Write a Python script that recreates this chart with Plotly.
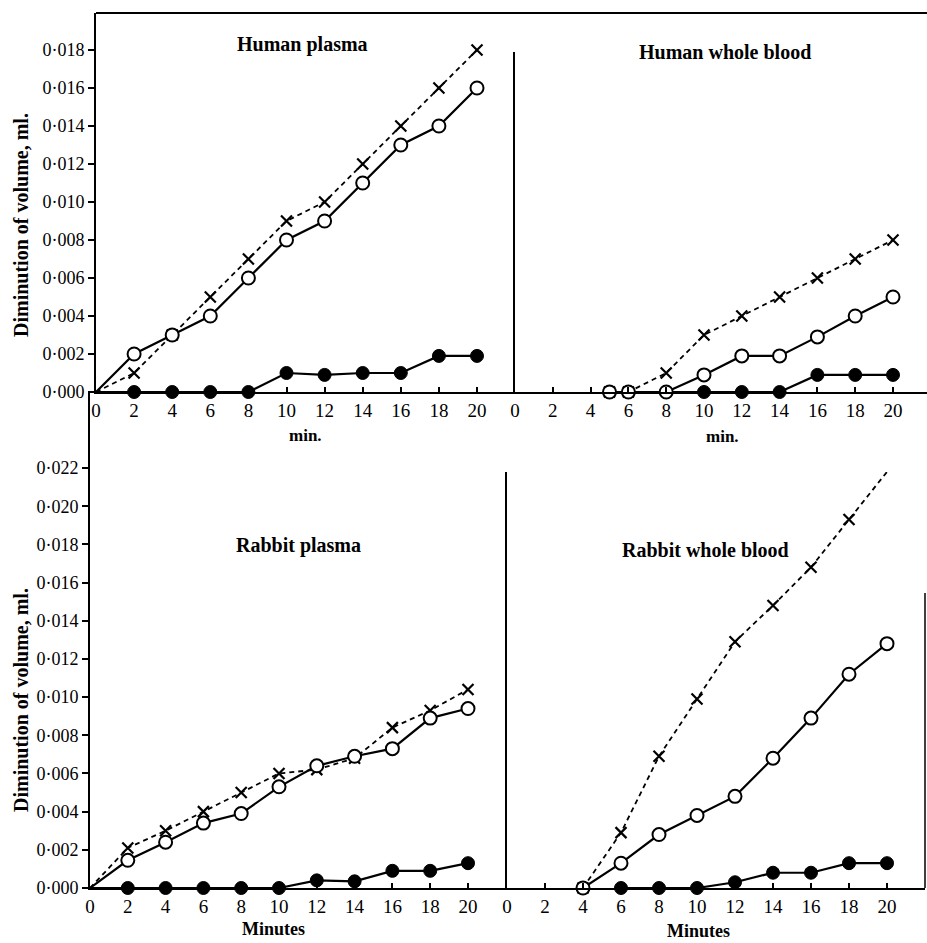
import plotly.graph_objects as go

W, H = 927, 943

# ---------------- data ----------------
hp_min = [0, 2, 4, 6, 8, 10, 12, 14, 16, 18, 20]
hp_cross = [0, 0.001, 0.003, 0.005, 0.007, 0.009, 0.010, 0.012, 0.014, 0.016, 0.018]
hp_open = [0, 0.002, 0.003, 0.004, 0.006, 0.008, 0.009, 0.011, 0.013, 0.014, 0.016]
hp_filled = [0, 0, 0, 0, 0, 0.001, 0.0009, 0.001, 0.001, 0.0019, 0.0019]

hwb_min = [5, 6, 8, 10, 12, 14, 16, 18, 20]
hwb_cross = [0, 0, 0.001, 0.003, 0.004, 0.005, 0.006, 0.007, 0.008]
hwb_open = [0, 0, 0, 0.0009, 0.0019, 0.0019, 0.0029, 0.004, 0.005]
hwb_filled_min = [8, 10, 12, 14, 16, 18, 20]
hwb_filled = [0, 0, 0, 0, 0.0009, 0.0009, 0.0009]

rp_min = [0, 2, 4, 6, 8, 10, 12, 14, 16, 18, 20]
rp_cross = [0, 0.0021, 0.003, 0.004, 0.005, 0.006, 0.0062, 0.0068, 0.0084, 0.0093, 0.0104]
rp_open = [0, 0.00145, 0.0024, 0.0034, 0.0039, 0.0053, 0.0064, 0.0069, 0.0073, 0.0089, 0.0094]
rp_filled = [0, 0, 0, 0, 0, 0, 0.0004, 0.00035, 0.0009, 0.0009, 0.0013]

rwb_min = [4, 6, 8, 10, 12, 14, 16, 18, 20]
rwb_cross = [0, 0.0029, 0.0069, 0.0099, 0.0129, 0.0148, 0.0168, 0.0193, 0.0218]
rwb_open = [0, 0.0013, 0.0028, 0.0038, 0.0048, 0.0068, 0.0089, 0.0112, 0.0128]
rwb_filled_min = [6, 8, 10, 12, 14, 16, 18, 20]
rwb_filled = [0, 0, 0, 0.0003, 0.0008, 0.0008, 0.0013, 0.0013]

x_ticks = [0, 2, 4, 6, 8, 10, 12, 14, 16, 18, 20]
top_yticks = [0, 0.002, 0.004, 0.006, 0.008, 0.010, 0.012, 0.014, 0.016, 0.018]
bot_yticks = [0, 0.002, 0.004, 0.006, 0.008, 0.010, 0.012, 0.014, 0.016, 0.018, 0.020, 0.022]
top_ylabels = ["0·%03d" % round(v * 1000) for v in top_yticks]
bot_ylabels = ["0·%03d" % round(v * 1000) for v in bot_yticks]

panel_titles = ["Human plasma", "Human whole blood", "Rabbit plasma", "Rabbit whole blood"]

FONT = "Liberation Serif"

fig = go.Figure()


def add_series(xs, ys, kind, ax):
    xa, ya = ax
    if kind == "cross":
        line = dict(color="black", width=1.8, dash="5px,4px")
        marker = dict(symbol="x-thin", size=11, line=dict(color="black", width=2.2), color="black")
    elif kind == "open":
        line = dict(color="black", width=2.2)
        marker = dict(symbol="circle", size=13, color="white", line=dict(color="black", width=2))
    else:
        line = dict(color="black", width=2.2)
        marker = dict(symbol="circle", size=13, color="black", line=dict(color="black", width=1))
    fig.add_trace(go.Scatter(x=xs, y=ys, mode="lines", line=line, xaxis=xa, yaxis=ya,
                             cliponaxis=False, showlegend=False, hoverinfo="skip"))
    mx = [x for x in xs if x > 0]
    my = [y for x, y in zip(xs, ys) if x > 0]
    fig.add_trace(go.Scatter(x=mx, y=my, mode="markers", marker=marker, xaxis=xa, yaxis=ya,
                             cliponaxis=False, showlegend=False))


add_series(hp_min, hp_cross, "cross", ("x", "y"))
add_series(hp_min, hp_filled, "filled", ("x", "y"))
add_series(hp_min, hp_open, "open", ("x", "y"))

add_series(hwb_min, hwb_cross, "cross", ("x2", "y2"))
add_series(hwb_filled_min, hwb_filled, "filled", ("x2", "y2"))
add_series(hwb_min, hwb_open, "open", ("x2", "y2"))

add_series(rp_min, rp_cross, "cross", ("x3", "y3"))
add_series(rp_min, rp_filled, "filled", ("x3", "y3"))
add_series(rp_min, rp_open, "open", ("x3", "y3"))

add_series(rwb_min, rwb_cross, "cross", ("x4", "y4"))
add_series(rwb_filled_min, rwb_filled, "filled", ("x4", "y4"))
add_series(rwb_min, rwb_open, "open", ("x4", "y4"))


def px_x(p):
    return p / W


def px_y(p):
    return 1 - p / H


def xaxis(dom0, dom1, rng_max, anchor):
    return dict(domain=[px_x(dom0), px_x(dom1)], range=[0, rng_max], anchor=anchor,
                automargin=False,
                showline=True, linecolor="black", linewidth=2, showgrid=False, zeroline=False,
                tickmode="array", tickvals=x_ticks, ticktext=[str(t) for t in x_ticks],
                ticks="inside", ticklen=5, tickwidth=1.5, tickcolor="black",
                tickfont=dict(family=FONT, size=19, color="black"))


def yaxis(top, bottom, rng_max, anchor, tickvals=None, ticktext=None):
    d = dict(domain=[px_y(bottom), px_y(top)], range=[0, rng_max], anchor=anchor,
             automargin=False,
             showline=True, linecolor="black", linewidth=2, showgrid=False, zeroline=False)
    if tickvals is None:
        d.update(showticklabels=False, ticks="")
    else:
        d.update(tickmode="array", tickvals=tickvals, ticktext=ticktext, ticks="outside",
                 ticklen=6, tickwidth=1.5, tickcolor="black",
                 tickfont=dict(family=FONT, size=18, color="black"))
    return d


fig.update_layout(
    width=W, height=H,
    margin=dict(l=0, r=0, t=0, b=0, pad=0),
    paper_bgcolor="white", plot_bgcolor="white",
    xaxis=xaxis(96, 515, (515 - 96) / 19.05, "y"),
    yaxis=yaxis(13, 392, (392 - 13) / 19000, "x", top_yticks, top_ylabels),
    xaxis2=xaxis(515, 927, (927 - 515) / 18.9, "y2"),
    yaxis2=yaxis(52, 392, (392 - 52) / 19000, "x2"),
    xaxis3=xaxis(90, 507, (507 - 90) / 18.9, "y3"),
    yaxis3=yaxis(392, 888, (888 - 392) / 19090, "x3", bot_yticks, bot_ylabels),
    xaxis4=xaxis(507, 925, (925 - 507) / 19.0, "y4"),
    yaxis4=yaxis(472, 888, (888 - 472) / 19090, "x4"),
)

# frame lines
fig.add_shape(type="line", xref="paper", yref="paper", x0=px_x(96), x1=1, y0=px_y(13), y1=px_y(13),
              line=dict(color="black", width=2))
fig.add_shape(type="line", xref="paper", yref="paper", x0=px_x(925), x1=px_x(925), y0=px_y(593), y1=px_y(888),
              line=dict(color="black", width=1.5))

ann = []
title_pos = [(302, 45), (725, 52), (298, 545), (705, 550)]
for t, (x, y) in zip(panel_titles, title_pos):
    ann.append(dict(text="<b>%s</b>" % t, x=px_x(x), y=px_y(y), font=dict(family=FONT, size=20, color="black")))
for x, y in [(21, 225), (21, 700)]:
    ann.append(dict(text="<b>Diminution of volume, ml.</b>", x=px_x(x), y=px_y(y), textangle=-90,
                    font=dict(family=FONT, size=20, color="black")))
for x, y in [(305, 435), (722, 437)]:
    ann.append(dict(text="<b>min.</b>", x=px_x(x), y=px_y(y), font=dict(family=FONT, size=17, color="black")))
for x, y in [(273, 929), (698, 931)]:
    ann.append(dict(text="<b>Minutes</b>", x=px_x(x), y=px_y(y), font=dict(family=FONT, size=18, color="black")))
for a in ann:
    a.update(xref="paper", yref="paper", xanchor="center", yanchor="middle", showarrow=False)
fig.update_layout(annotations=ann)

fig.write_html("out.html",
               config={"displayModeBar": False},
               post_script="document.body.style.margin='0';document.body.style.padding='0';"
                           "document.body.style.overflow='hidden';")
